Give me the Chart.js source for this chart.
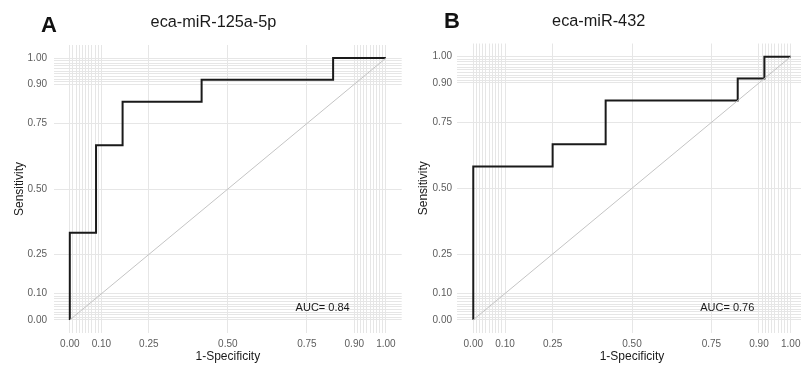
<!DOCTYPE html>
<html>
<head>
<meta charset="utf-8">
<script src="https://cdn.jsdelivr.net/npm/chart.js@4"></script>
<style>
  html, body { margin: 0; padding: 0; background: #fff; }
  #wrap { position: relative; width: 801px; height: 367px; overflow: hidden; font-family: "Liberation Sans", Arial, sans-serif; }
  canvas { position: absolute; top: 0; }
  .tag { position: absolute; font-weight: bold; font-size: 22px; line-height: 22px; color: #111; }
  .ttl { position: absolute; width: 300px; text-align: center; font-size: 16.3px; line-height: 16.3px; color: #1a1a1a; }
</style>
</head>
<body>
<div id="wrap">
  <canvas id="chartA" width="410" height="367" style="left:0"></canvas>
  <canvas id="chartB" width="410" height="367" style="left:400px"></canvas>
  <div class="tag" style="left:41px; top:13.5px">A</div>
  <div class="tag" style="left:444px; top:9.8px">B</div>
  <div class="ttl" style="left:63.5px; top:12.9px">eca-miR-125a-5p</div>
  <div class="ttl" style="left:448.7px; top:12.4px">eca-miR-432</div>
</div>
<script>
// axis breaks (style_roc look)
const majorBreaks = [0, 0.1, 0.25, 0.5, 0.75, 0.9, 1];
const minorBreaks = [0.01, 0.02, 0.03, 0.04, 0.05, 0.06, 0.07, 0.08, 0.09,
                     0.91, 0.92, 0.93, 0.94, 0.95, 0.96, 0.97, 0.98, 0.99];

// ROC corners
const fprA = [0, 0, 0.083, 0.083, 0.167, 0.167, 0.417, 0.417, 0.833, 0.833, 1];
const tprA = [0, 0.333, 0.333, 0.667, 0.667, 0.833, 0.833, 0.917, 0.917, 1, 1];
const fprB = [0, 0, 0.25, 0.25, 0.417, 0.417, 0.833, 0.833, 0.917, 0.917, 1];
const tprB = [0, 0.583, 0.583, 0.667, 0.667, 0.833, 0.833, 0.917, 0.917, 1, 1];

const refLine = [0, 1];
const aucA = 0.84;
const aucB = 0.76;
const aucSpot = [0.8, 0.045];

const allBreaks = majorBreaks.concat(minorBreaks).sort((a, b) => a - b);
const isMajor = v => majorBreaks.some(m => Math.abs(m - v) < 1e-6);
const gridColor = '#e6e6e6';
const tickColor = '#5c5c5c';

function axis(title, extra) {
    return Object.assign({
        type: 'linear',
        min: -0.05,
        max: 1.05,
        afterBuildTicks: s => { s.ticks = allBreaks.map(v => ({ value: v })); },
        ticks: {
            autoSkip: false,
            maxRotation: 0,
            color: tickColor,
            font: { family: '"Liberation Sans", Arial, sans-serif', size: 10 },
            callback: v => isMajor(v) ? v.toFixed(2) : ''
        },
        grid: { color: gridColor, lineWidth: 1, drawTicks: false },
        border: { display: false },
        title: {
            display: true,
            text: title,
            color: '#1a1a1a',
            font: { family: '"Liberation Sans", Arial, sans-serif', size: 12 }
        }
    }, extra);
}

function makeChart(id, fpr, tpr, auc, box) {
    const xAxis = axis('1-Specificity', {
        position: 'bottom',
        afterFit: s => { s.height = 34; }
    });
    xAxis.ticks.padding = 5;
    xAxis.title.padding = { top: 0, bottom: 2.8 };

    const yAxis = axis('Sensitivity', {
        position: 'left',
        afterFit: s => { s.width = box.axisW; }
    });
    yAxis.ticks.padding = box.tickPad;
    yAxis.title.padding = { top: box.titlePad, bottom: 0 };

    return new Chart(document.getElementById(id), {
        type: 'line',
        data: {
            datasets: [
                {
                    data: refLine.map(v => ({ x: v, y: v })),
                    borderColor: '#c4c4c4',
                    borderWidth: 1,
                    pointRadius: 0
                },
                {
                    data: fpr.map((v, i) => ({ x: v, y: tpr[i] })),
                    borderColor: '#1a1a1a',
                    borderWidth: 2,
                    pointRadius: 0,
                    tension: 0
                }
            ]
        },
        options: {
            responsive: false,
            animation: false,
            layout: { padding: { top: box.top, right: box.right, left: 0, bottom: 0 } },
            plugins: { legend: { display: false }, tooltip: { enabled: false } },
            scales: { x: xAxis, y: yAxis }
        },
        plugins: [{
            id: 'aucLabel',
            afterDatasetsDraw(chart) {
                const c = chart.ctx;
                c.save();
                c.font = '11px "Liberation Sans", Arial, sans-serif';
                c.fillStyle = '#1a1a1a';
                c.textAlign = 'center';
                c.textBaseline = 'middle';
                c.fillText('AUC= ' + auc.toFixed(2),
                    chart.scales.x.getPixelForValue(aucSpot[0]),
                    chart.scales.y.getPixelForValue(aucSpot[1]));
                c.restore();
            }
        }]
    });
}

makeChart('chartA', fprA, tprA, aucA, { axisW: 54, tickPad: 7, titlePad: 12.1, top: 45, right: 8.3 });
makeChart('chartB', fprB, tprB, aucB, { axisW: 57.4, tickPad: 5.4, titlePad: 16.1, top: 43.5, right: 3.4 });
</script>
</body>
</html>
